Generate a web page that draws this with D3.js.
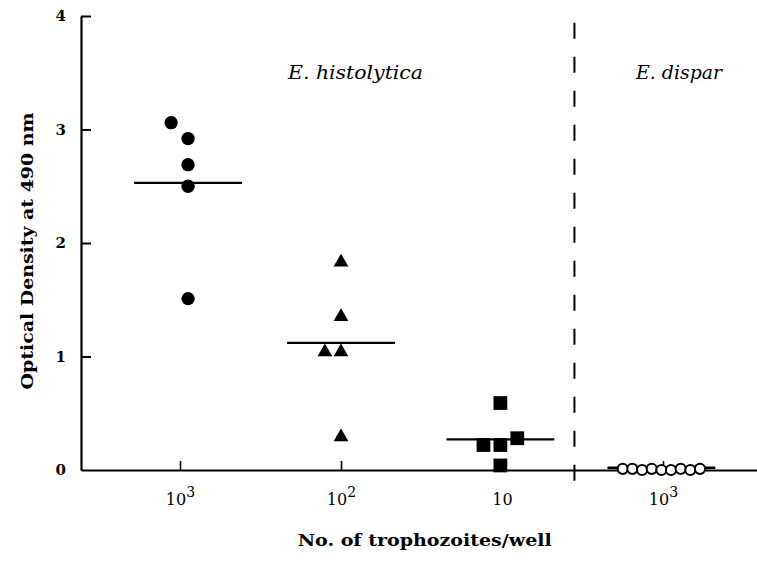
<!DOCTYPE html>
<html>
<head>
<meta charset="utf-8">
<script src="https://cdn.jsdelivr.net/npm/d3@7"></script>
<style>
  body { margin: 0; background: #fff; }
  svg text { font-family: "DejaVu Serif", "Liberation Serif", serif; fill: #000; }
</style>
</head>
<body>
<svg id="chart" width="757" height="563"></svg>
<script>
// categories on the x axis (base, exponent)
var categories = [["10", "3"], ["10", "2"], ["10", ""], ["10", "3"]];
var yTicks = [0, 1, 2, 3, 4];

// optical density readings per group
var hist1000 = [3.06, 2.92, 2.69, 2.50, 1.51];
var hist100 = [1.83, 1.35, 1.04, 1.04, 0.29];
var hist10 = [0.59, 0.22, 0.22, 0.28, 0.04];
var dispar1000 = [0.01, 0.01, 0.0, 0.01, 0.0, 0.0, 0.01, 0.0, 0.01];

// side-by-side spread of overlapping points (in category units)
var spread1000 = [-0.105, 0, 0, 0, 0];
var spread100 = [0, 0, -0.1, 0, 0];
var spread10 = [0, -0.105, 0, 0.105, 0];
var spreadDispar = [-0.24, -0.18, -0.12, -0.06, 0, 0.06, 0.12, 0.18, 0.24];

var groupCenter = [0.05, 1.0, 1.99, 2.99];
var groupMeans = [2.53, 1.12, 0.27, 0.02];
var dividerAt = 2.45;

var svg = d3.select("svg#chart");

var x = d3.scaleLinear().domain([-0.615, 3.584]).range([81, 757]);
var y = d3.scaleLinear().domain([0, 4]).range([470, 16]);

// y axis, ticks pointing inward
var yAxis = svg.append("g")
  .attr("transform", "translate(81,0)")
  .call(d3.axisLeft(y).tickValues(yTicks).tickFormat(d3.format("d"))
    .tickSizeInner(-10).tickSizeOuter(0).tickPadding(15));
yAxis.select(".domain").attr("stroke-width", 2.2);
yAxis.selectAll(".tick line").attr("stroke-width", 2);
yAxis.selectAll(".tick text")
  .style("font-size", "15px").style("font-weight", "bold");
yAxis.selectAll(".tick").filter(d => d === 0).select("line").remove();

// x axis
var xAxis = svg.append("g")
  .attr("transform", "translate(0,470)")
  .call(d3.axisBottom(x).tickValues([0, 1, 2, 3]).tickFormat("")
    .tickSizeInner(-9).tickSizeOuter(0).tickPadding(24));
xAxis.select(".domain").attr("stroke-width", 2.2);
xAxis.selectAll(".tick line").attr("stroke-width", 1.6);
xAxis.selectAll(".tick text").each(function (d) {
  var t = d3.select(this).style("font-size", "16px");
  t.append("tspan").text(categories[d][0]);
  if (categories[d][1]) {
    t.append("tspan").attr("dy", "-0.6em").style("font-size", "14px").text(categories[d][1]);
  }
});

// dashed divider
svg.append("line")
  .attr("x1", x(dividerAt)).attr("x2", x(dividerAt))
  .attr("y1", y(3.94)).attr("y2", 482)
  .attr("stroke", "#000").attr("stroke-width", 2)
  .attr("stroke-dasharray", "16,18");

// group titles
svg.append("text")
  .attr("x", x(1.09)).attr("y", 79)
  .attr("text-anchor", "middle")
  .attr("textLength", 135).attr("lengthAdjust", "spacingAndGlyphs")
  .style("font-size", "18px").style("font-style", "italic")
  .text("E. histolytica");
svg.append("text")
  .attr("x", x(3.1)).attr("y", 79)
  .attr("text-anchor", "middle")
  .attr("textLength", 86).attr("lengthAdjust", "spacingAndGlyphs")
  .style("font-size", "18px").style("font-style", "italic")
  .text("E. dispar");

// axis titles
svg.append("text")
  .attr("transform", "translate(27," + y(1.93) + ") rotate(-90)")
  .attr("text-anchor", "middle")
  .attr("dominant-baseline", "central")
  .attr("textLength", 277).attr("lengthAdjust", "spacingAndGlyphs")
  .style("font-size", "17px").style("font-weight", "bold")
  .text("Optical Density at 490 nm");
svg.append("text")
  .attr("x", x(1.52)).attr("y", 546)
  .attr("text-anchor", "middle")
  .attr("textLength", 254).attr("lengthAdjust", "spacingAndGlyphs")
  .style("font-size", "17px").style("font-weight", "bold")
  .text("No. of trophozoites/well");

// mean bars
svg.append("g").selectAll("line")
  .data(groupMeans)
  .enter()
  .append("line")
  .attr("x1", (d, i) => x(groupCenter[i] - 0.335))
  .attr("x2", (d, i) => x(groupCenter[i] + 0.335))
  .attr("y1", d => y(d)).attr("y2", d => y(d))
  .attr("stroke", "#000").attr("stroke-width", 2.4);

function pts(values, spread, g) {
  return values.map((v, i) => ({ v: v, p: groupCenter[g] + spread[i] }));
}

var groups = [
  { data: pts(hist1000, spread1000, 0), shape: d3.symbolCircle, size: 140, fill: "#000" },
  { data: pts(hist100, spread100, 1), shape: d3.symbolTriangle, size: 95, fill: "#000" },
  { data: pts(hist10, spread10, 2), shape: d3.symbolSquare, size: 190, fill: "#000" },
  { data: pts(dispar1000, spreadDispar, 3), shape: d3.symbolCircle, size: 80, fill: "#fff" }
];

groups.forEach(function (grp) {
  svg.append("g").selectAll("path")
    .data(grp.data)
    .enter()
    .append("path")
    .attr("d", d3.symbol().type(grp.shape).size(grp.size))
    .attr("transform", d => "translate(" + x(d.p) + "," + y(d.v) + ")")
    .attr("fill", grp.fill)
    .attr("stroke", "#000")
    .attr("stroke-width", grp.fill === "#fff" ? 2 : 0);
});
</script>
</body>
</html>
